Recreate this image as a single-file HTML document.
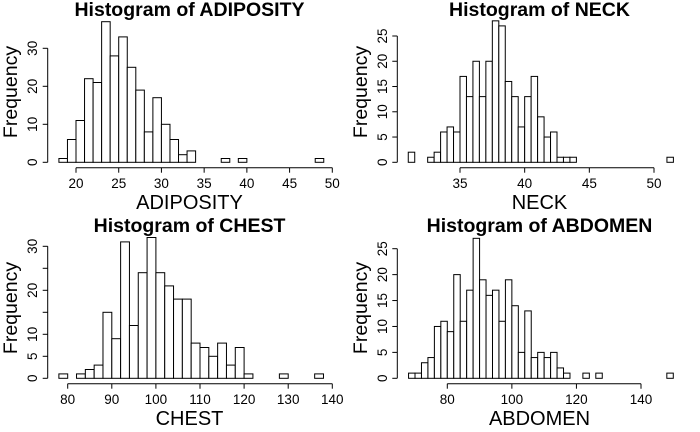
<!DOCTYPE html>
<html><head><meta charset="utf-8"><style>
body{margin:0;background:#fff}
svg{display:block;font-family:"Liberation Sans",Arial,sans-serif}
</style></head><body>
<svg id="c" width="700" height="432" viewBox="0 0 700 432"></svg>
<script>
const adiposityCounts=[1,6,11,22,21,37,28,33,25,19,8,17,10,6,2,3,0,0,0,1,0,1,0,0,0,0,0,0,0,0,1];
const neckCounts=[2,0,0,1,2,6,7,6,17,13,20,13,20,28,27,16,13,7,13,17,9,5,6,1,1,1,0,0,0,0,0,0,0,0,0,0,0,0,0,0,1];
const chestCounts=[1,0,1,2,3,15,9,31,12,24,32,24,21,18,18,8,7,5,8,3,7,1,0,0,0,1,0,0,0,1];
const abdomenCounts=[1,1,3,4,10,11,9,20,11,17,27,19,16,17,11,19,14,5,13,4,5,4,5,2,1,0,0,1,0,1,0,0,0,0,0,0,0,0,0,0,1];
const adiposityXTicks=[20,25,30,35,40,45,50];
const neckXTicks=[35,40,45,50];
const chestXTicks=[80,90,100,110,120,130,140];
const abdomenXTicks=[80,100,120,140];
const adiposityYTicks=[0,10,20,30];
const neckYTicks=[0,5,10,15,20,25];
const chestYTicks=[0,5,10,15,20,25,30];
const chestYLabels=[0,5,10,20,30];
const abdomenYTicks=[0,5,10,15,20,25];
const panels=[
 {name:'adiposity',title:'Histogram of ADIPOSITY',xl:'ADIPOSITY',counts:adiposityCounts,start:18,bw:1,xt:adiposityXTicks,yt:adiposityYTicks,yl:adiposityYTicks,
  x0:20,px0:76,x1:50,px1:332.3,y0:162.3,y1v:30,py1:48.3,ax:47.7,ox:0,oy:0,cx:189.5,fx:17},
 {name:'neck',title:'Histogram of NECK',xl:'NECK',counts:neckCounts,start:31,bw:0.5,xt:neckXTicks,yt:neckYTicks,yl:neckYTicks,
  x0:35,px0:460,x1:50,px1:654,y0:162.3,y1v:25,py1:36,ax:397.3,ox:340,oy:0,cx:539.5,fx:367},
 {name:'chest',title:'Histogram of CHEST',xl:'CHEST',counts:chestCounts,start:78,bw:2,xt:chestXTicks,yt:chestYTicks,yl:chestYLabels,
  x0:80,px0:67.7,x1:140,px1:332.3,y0:378.3,y1v:30,py1:246.3,ax:47.7,ox:0,oy:216,cx:189.5,fx:17},
 {name:'abdomen',title:'Histogram of ABDOMEN',xl:'ABDOMEN',counts:abdomenCounts,start:68,bw:2,xt:abdomenXTicks,yt:abdomenYTicks,yl:abdomenYTicks,
  x0:80,px0:447.3,x1:140,px1:641,y0:378.3,y1v:25,py1:248.7,ax:397.3,ox:340,oy:216,cx:539.5,fx:367}
];
const svg=document.getElementById('c');
const NS='http://www.w3.org/2000/svg';
function mk(t,a,p){const e=document.createElementNS(NS,t);for(const k in a)e.setAttribute(k,a[k]);(p||svg).appendChild(e);return e;}
panels.forEach(P=>{
 const g=mk('g',{});
 
 
 const sx=v=>P.px0+(v-P.x0)*(P.px1-P.px0)/(P.x1-P.x0);
 const sy=v=>P.y0-(v)*(P.y0-P.py1)/P.y1v;
 const t=mk('text',{x:P.cx,y:P.oy+16,'text-anchor':'middle','font-size':'19.5','font-weight':'bold'},g);t.textContent=P.title;
 
 
 P.counts.forEach((c,i)=>{
  const a=sx(P.start+i*P.bw),b=sx(P.start+(i+1)*P.bw);
  const r=mk('rect',{x:a,y:sy(c),width:b-a,height:sy(0)-sy(c),fill:'#fff',stroke:'#000','stroke-width':1},g);
  
  
 });
 const xa=P.y0+5.4;
 const xl=mk('line',{x1:sx(P.xt[0]),x2:sx(P.xt[P.xt.length-1]),y1:xa,y2:xa,stroke:'#000'},g);
 
 
 P.xt.forEach(v=>{
  mk('line',{x1:sx(v),x2:sx(v),y1:xa,y2:xa+5,stroke:'#000'},g);
  const tx=mk('text',{x:sx(v),y:P.oy+188,'text-anchor':'middle','font-size':'13.5'},g);tx.textContent=v;
  
  
 });
 const yl=mk('line',{x1:P.ax,x2:P.ax,y1:sy(P.yt[0]),y2:sy(P.yt[P.yt.length-1]),stroke:'#000'},g);
 
 
 P.yt.forEach(v=>mk('line',{x1:P.ax-5,x2:P.ax,y1:sy(v),y2:sy(v),stroke:'#000'},g));
 P.yl.forEach(v=>{
  const tx=mk('text',{x:0,y:0,'text-anchor':'middle','font-size':'13.5',transform:`translate(${P.ax-10.5},${sy(v)}) rotate(-90)`},g);tx.textContent=v;
  
  
 });
 const xt=mk('text',{x:P.cx,y:P.oy+209,'text-anchor':'middle','font-size':'20'},g);xt.textContent=P.xl;
 
 
 const yt=mk('text',{x:0,y:0,'text-anchor':'middle','font-size':'19.5',transform:`translate(${P.fx},${P.oy+92}) rotate(-90)`},g);yt.textContent='Frequency';
 
 
});
</script>
</body></html>
